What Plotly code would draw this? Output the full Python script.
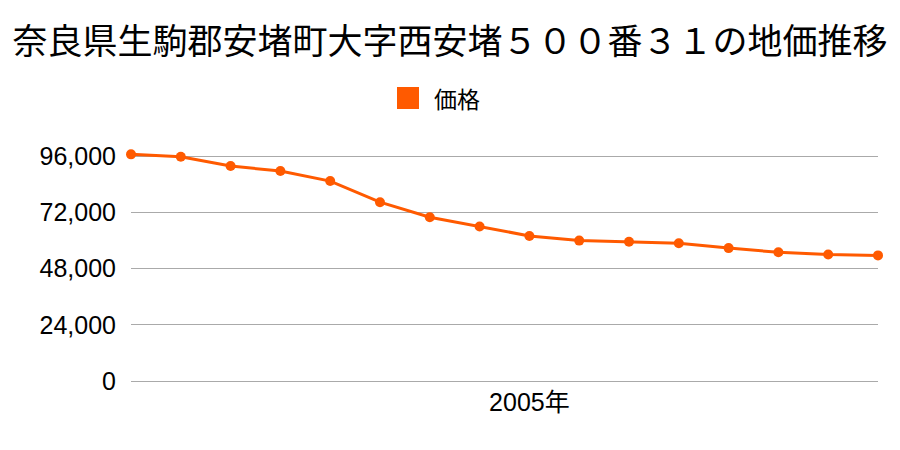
import plotly.graph_objects as go

years = list(range(1997, 2013))
prices = [96700, 95700, 91700, 89600, 85300, 76300, 69900, 65900,
          61900, 59900, 59400, 58800, 56700, 54900, 54000, 53600]
y_ticks = [0, 24000, 48000, 72000, 96000]
y_tick_labels = ["0", "24,000", "48,000", "72,000", "96,000"]
x_ticks = [2005]
x_tick_labels = ["2005年"]
title_text = "奈良県生駒郡安堵町大字西安堵５００番３１の地価推移"
series_name = "価格"
color = "#FF5A00"

# page body has an 8px default margin; size the figure to fill the rest
W, H = 892, 442
ML, MR, MT, MB = 123, 22, 139, 69
PW, PH = W - ML - MR, H - MT - MB

fig = go.Figure()
fig.add_trace(go.Scatter(
    x=years, y=prices, mode="lines+markers",
    line=dict(color=color, width=3),
    marker=dict(color=color, size=10),
    name=series_name, showlegend=False, cliponaxis=False,
))

# legend drawn as a square + label above the plot
def px_x(v):
    return (v - ML) / PW

def px_y(v):
    return 1 + (MT - v) / PH

fig.add_shape(type="rect", xref="paper", yref="paper",
              x0=px_x(389), x1=px_x(411), y0=px_y(101), y1=px_y(79),
              fillcolor=color, line=dict(width=0))
fig.add_annotation(text=series_name, xref="paper", yref="paper",
                   x=px_x(424), y=px_y(90), xanchor="left", yanchor="middle",
                   showarrow=False,
                   font=dict(family="Noto Sans CJK JP", size=23, color="#000"))

fig.update_layout(
    width=W, height=H,
    paper_bgcolor="white", plot_bgcolor="white",
    margin=dict(l=ML, r=MR, t=MT, b=MB),
    font=dict(family="Liberation Sans", size=25, color="#000"),
    title=dict(text=title_text, x=442 / W, xanchor="center", xref="container",
               y=1 - 34 / H, yref="container", yanchor="middle",
               font=dict(family="Noto Sans CJK JP", size=35, color="#000")),
    showlegend=False,
    xaxis=dict(range=[years[0], years[-1]], tickvals=x_ticks, ticktext=x_tick_labels,
               showgrid=False, zeroline=False, showline=False, ticks="",
               ticklabelstandoff=4,
               tickfont=dict(family="Liberation Sans, Noto Sans CJK JP", size=25)),
    yaxis=dict(range=[0, 99840], tickvals=y_ticks, ticktext=y_tick_labels,
               showgrid=True, gridcolor="#AAAAAA", gridwidth=1,
               zeroline=True, zerolinecolor="#AAAAAA", zerolinewidth=1,
               showline=False, ticks="", ticklabelstandoff=14,
               tickfont=dict(family="Liberation Sans", size=25)),
)

fig.write_html("out.html")
